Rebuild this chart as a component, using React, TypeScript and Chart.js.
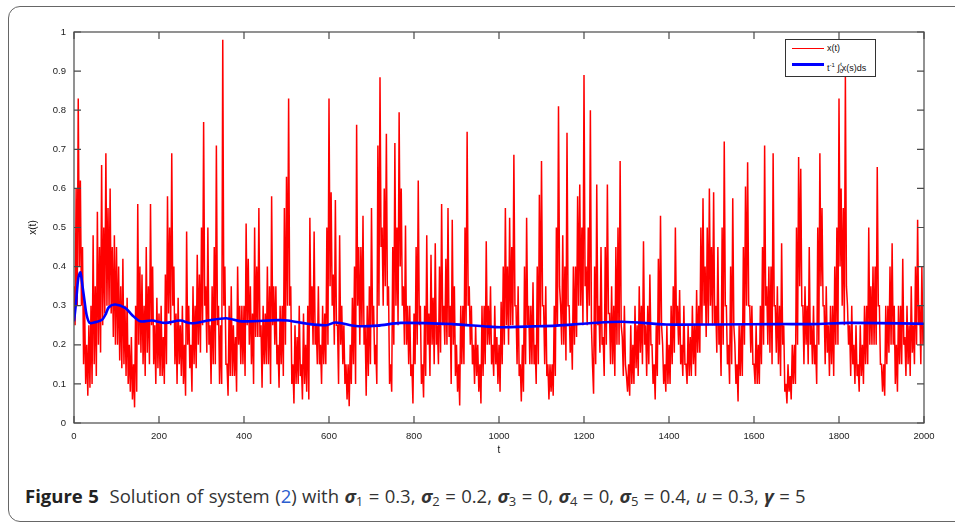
import React, { useEffect, useRef } from "react";
import { Chart, registerables } from "chart.js";

Chart.register(...registerables);

// time step of the sampled x(t) trace
const T_STEP = 2.5;

// x(t) sampled every T_STEP time units, t = 0 .. 2000 (read off the figure:
// successive samples swing between the top and bottom of the dense red band)
const xValues: number[] = [
  0.35, 0.25, 0.6, 0.3, 0.83, 0.4, 0.62, 0.3, 0.45, 0.15, 0.3, 0.1, 0.2, 0.07, 0.25, 0.09, 0.3, 0.1, 0.48, 0.15,
  0.35, 0.12, 0.54, 0.2, 0.45, 0.18, 0.66, 0.25, 0.5, 0.28, 0.69, 0.3, 0.55, 0.3, 0.6, 0.28, 0.45, 0.22, 0.48, 0.2,
  0.45, 0.2, 0.4, 0.16, 0.35, 0.14, 0.42, 0.15, 0.3, 0.12, 0.32, 0.1, 0.2, 0.08, 0.22, 0.06, 0.15, 0.04, 0.3, 0.08,
  0.56, 0.2, 0.4, 0.18, 0.38, 0.15, 0.3, 0.12, 0.45, 0.18, 0.35, 0.15, 0.56, 0.25, 0.4, 0.15, 0.25, 0.1, 0.32, 0.14,
  0.28, 0.12, 0.3, 0.12, 0.22, 0.1, 0.38, 0.15, 0.58, 0.28, 0.5, 0.25, 0.69, 0.3, 0.4, 0.15, 0.28, 0.1, 0.32, 0.15,
  0.25, 0.12, 0.3, 0.1, 0.2, 0.07, 0.49, 0.2, 0.3, 0.14, 0.2, 0.08, 0.35, 0.15, 0.3, 0.14, 0.43, 0.2, 0.38, 0.18,
  0.5, 0.25, 0.77, 0.3, 0.35, 0.18, 0.5, 0.2, 0.25, 0.1, 0.35, 0.15, 0.45, 0.15, 0.71, 0.25, 0.3, 0.1, 0.25, 0.1,
  0.98, 0.3, 0.4, 0.15, 0.15, 0.07, 0.3, 0.12, 0.35, 0.12, 0.25, 0.12, 0.22, 0.08, 0.4, 0.2, 0.3, 0.15, 0.3, 0.15,
  0.3, 0.12, 0.51, 0.25, 0.42, 0.2, 0.35, 0.15, 0.28, 0.1, 0.5, 0.22, 0.4, 0.22, 0.55, 0.22, 0.25, 0.09, 0.3, 0.15,
  0.28, 0.15, 0.4, 0.15, 0.35, 0.1, 0.58, 0.25, 0.35, 0.2, 0.35, 0.15, 0.2, 0.09, 0.3, 0.15, 0.3, 0.12, 0.55, 0.2,
  0.63, 0.3, 0.83, 0.3, 0.35, 0.1, 0.15, 0.05, 0.25, 0.1, 0.22, 0.1, 0.3, 0.12, 0.15, 0.06, 0.28, 0.1, 0.2, 0.08,
  0.3, 0.06, 0.525, 0.25, 0.35, 0.2, 0.49, 0.2, 0.25, 0.15, 0.35, 0.15, 0.2, 0.1, 0.3, 0.15, 0.28, 0.15, 0.5, 0.2,
  0.83, 0.35, 0.59, 0.3, 0.38, 0.2, 0.57, 0.25, 0.25, 0.1, 0.48, 0.2, 0.3, 0.15, 0.25, 0.1, 0.15, 0.06, 0.15, 0.043,
  0.2, 0.1, 0.32, 0.15, 0.4, 0.1, 0.763, 0.3, 0.45, 0.2, 0.45, 0.25, 0.53, 0.2, 0.25, 0.07, 0.3, 0.12, 0.35, 0.15,
  0.55, 0.25, 0.3, 0.15, 0.2, 0.1, 0.71, 0.3, 0.884, 0.45, 0.5, 0.3, 0.6, 0.35, 0.74, 0.3, 0.35, 0.1, 0.15, 0.08,
  0.45, 0.2, 0.716, 0.3, 0.5, 0.25, 0.795, 0.4, 0.6, 0.3, 0.35, 0.2, 0.505, 0.2, 0.3, 0.15, 0.3, 0.12, 0.15, 0.05,
  0.28, 0.15, 0.45, 0.2, 0.62, 0.25, 0.3, 0.1, 0.15, 0.065, 0.3, 0.12, 0.48, 0.2, 0.28, 0.12, 0.43, 0.2, 0.32, 0.15,
  0.46, 0.2, 0.25, 0.15, 0.4, 0.18, 0.56, 0.25, 0.3, 0.2, 0.42, 0.2, 0.55, 0.22, 0.3, 0.1, 0.52, 0.2, 0.35, 0.12,
  0.2, 0.08, 0.15, 0.045, 0.3, 0.15, 0.3, 0.15, 0.5, 0.25, 0.745, 0.3, 0.35, 0.2, 0.3, 0.15, 0.2, 0.1, 0.25, 0.12,
  0.2, 0.08, 0.15, 0.05, 0.3, 0.12, 0.3, 0.15, 0.465, 0.2, 0.3, 0.2, 0.35, 0.15, 0.2, 0.12, 0.3, 0.15, 0.22, 0.1,
  0.2, 0.08, 0.31, 0.15, 0.4, 0.2, 0.55, 0.25, 0.4, 0.2, 0.525, 0.25, 0.45, 0.25, 0.686, 0.3, 0.3, 0.15, 0.35, 0.12,
  0.15, 0.055, 0.2, 0.08, 0.4, 0.15, 0.525, 0.25, 0.3, 0.15, 0.3, 0.15, 0.36, 0.15, 0.2, 0.1, 0.4, 0.15, 0.584, 0.25,
  0.67, 0.3, 0.3, 0.15, 0.35, 0.12, 0.15, 0.06, 0.15, 0.08, 0.15, 0.07, 0.3, 0.12, 0.5, 0.25, 0.81, 0.35, 0.3, 0.2,
  0.48, 0.2, 0.4, 0.16, 0.742, 0.3, 0.3, 0.18, 0.25, 0.136, 0.4, 0.2, 0.4, 0.22, 0.58, 0.3, 0.61, 0.3, 0.5, 0.25,
  0.89, 0.35, 0.4, 0.25, 0.5, 0.3, 0.8, 0.25, 0.15, 0.075, 0.4, 0.15, 0.61, 0.25, 0.3, 0.18, 0.45, 0.2, 0.22, 0.12,
  0.45, 0.2, 0.61, 0.28, 0.28, 0.15, 0.35, 0.15, 0.3, 0.12, 0.45, 0.2, 0.5, 0.2, 0.67, 0.25, 0.22, 0.12, 0.3, 0.15,
  0.12, 0.08, 0.15, 0.07, 0.25, 0.1, 0.2, 0.1, 0.3, 0.14, 0.25, 0.12, 0.35, 0.18, 0.3, 0.15, 0.465, 0.2, 0.25, 0.12,
  0.3, 0.15, 0.38, 0.2, 0.2, 0.1, 0.15, 0.06, 0.25, 0.12, 0.42, 0.2, 0.53, 0.25, 0.2, 0.1, 0.15, 0.08, 0.25, 0.1,
  0.2, 0.1, 0.3, 0.15, 0.35, 0.18, 0.5, 0.25, 0.3, 0.2, 0.34, 0.15, 0.2, 0.12, 0.3, 0.15, 0.15, 0.1, 0.25, 0.12,
  0.22, 0.12, 0.3, 0.15, 0.25, 0.12, 0.34, 0.18, 0.3, 0.18, 0.5, 0.25, 0.575, 0.3, 0.4, 0.22, 0.5, 0.25, 0.6, 0.3,
  0.45, 0.25, 0.59, 0.25, 0.3, 0.18, 0.45, 0.2, 0.25, 0.12, 0.5, 0.2, 0.72, 0.3, 0.3, 0.15, 0.2, 0.1, 0.4, 0.15,
  0.575, 0.25, 0.2, 0.1, 0.15, 0.055, 0.25, 0.12, 0.25, 0.12, 0.45, 0.2, 0.605, 0.3, 0.667, 0.3, 0.3, 0.18, 0.3, 0.15,
  0.15, 0.1, 0.25, 0.1, 0.2, 0.1, 0.3, 0.15, 0.45, 0.2, 0.71, 0.3, 0.35, 0.2, 0.4, 0.18, 0.4, 0.15, 0.69, 0.3,
  0.3, 0.18, 0.35, 0.15, 0.3, 0.12, 0.46, 0.2, 0.25, 0.08, 0.1, 0.05, 0.15, 0.08, 0.12, 0.06, 0.2, 0.1, 0.2, 0.1,
  0.5, 0.2, 0.68, 0.35, 0.65, 0.3, 0.3, 0.15, 0.35, 0.2, 0.3, 0.15, 0.45, 0.2, 0.25, 0.15, 0.3, 0.15, 0.2, 0.1,
  0.5, 0.2, 0.69, 0.35, 0.55, 0.3, 0.3, 0.15, 0.35, 0.18, 0.25, 0.12, 0.3, 0.15, 0.3, 0.12, 0.4, 0.2, 0.5, 0.2,
  0.83, 0.4, 0.6, 0.3, 0.55, 0.25, 0.886, 0.35, 0.3, 0.2, 0.25, 0.12, 0.3, 0.15, 0.2, 0.1, 0.25, 0.12, 0.15, 0.08,
  0.25, 0.12, 0.2, 0.1, 0.3, 0.15, 0.3, 0.15, 0.5, 0.2, 0.35, 0.2, 0.4, 0.2, 0.4, 0.2, 0.655, 0.3, 0.3, 0.15,
  0.15, 0.08, 0.15, 0.07, 0.3, 0.15, 0.3, 0.18, 0.4, 0.2, 0.46, 0.2, 0.3, 0.1, 0.2, 0.08, 0.3, 0.15, 0.3, 0.15,
  0.42, 0.2, 0.22, 0.12, 0.3, 0.15, 0.25, 0.12, 0.35, 0.18, 0.25, 0.15, 0.4, 0.2, 0.52, 0.25, 0.3, 0.15, 0.4, 0.2,
  0.25,
];

// running time average t^-1 ∫0^t x(s) ds
const avgT: number[] = [
  0, 5, 10, 15, 20, 25, 30, 37, 50, 66, 74, 82, 97, 121, 136, 156, 183, 215,
  250, 276, 315, 358, 394, 480, 503, 554, 593, 616, 663, 714, 769, 890, 969,
  1005, 1080, 1135, 1213, 1290, 1394, 1508, 1660, 1738, 1825, 2000,
];
const avgV: number[] = [
  0.26, 0.31, 0.37, 0.385, 0.35, 0.31, 0.275, 0.256, 0.258, 0.264, 0.277,
  0.296, 0.303, 0.294, 0.277, 0.26, 0.262, 0.256, 0.262, 0.255, 0.262, 0.268,
  0.26, 0.263, 0.262, 0.253, 0.25, 0.257, 0.248, 0.249, 0.256, 0.253, 0.247,
  0.245, 0.247, 0.249, 0.255, 0.259, 0.252, 0.252, 0.253, 0.253, 0.256,
  0.254,
];

const X_MIN = 0;
const X_MAX = 2000;
const X_STEP = 200;
const Y_MIN = 0;
const Y_MAX = 1;
const Y_STEP = 0.1;

const TICK_FONT = "'Liberation Sans', Arial, sans-serif";

const boxPlugin = {
  id: "matlabBox",
  afterDatasetsDraw(chart: any) {
    const { ctx, chartArea, scales } = chart;
    const { left, right, top, bottom } = chartArea;
    ctx.save();
    ctx.strokeStyle = "#4a4a4a";
    ctx.lineWidth = 1.2;
    ctx.strokeRect(left, top, right - left, bottom - top);
    const len = 7;
    ctx.beginPath();
    for (const t of scales.x.ticks) {
      const px = scales.x.getPixelForValue(t.value);
      ctx.moveTo(px, bottom);
      ctx.lineTo(px, bottom - len);
      ctx.moveTo(px, top);
      ctx.lineTo(px, top + len);
    }
    for (const t of scales.y.ticks) {
      const py = scales.y.getPixelForValue(t.value);
      ctx.moveTo(left, py);
      ctx.lineTo(left + len, py);
      ctx.moveTo(right, py);
      ctx.lineTo(right - len, py);
    }
    ctx.stroke();
    ctx.restore();
  },
};

const fmt = (v: number) => String(Math.round(v * 10) / 10);

export default function App() {
  const ref = useRef<HTMLCanvasElement>(null);

  useEffect(() => {
    document.body.style.margin = "0";
    const redData = xValues.map((v, i) => ({ x: i * T_STEP, y: v }));
    const blueData = avgT.map((t, i) => ({ x: t, y: avgV[i] }));
    const chart = new Chart(ref.current as HTMLCanvasElement, {
      type: "line",
      data: {
        datasets: [
          {
            label: "avg",
            data: blueData,
            borderColor: "#0000ff",
            borderWidth: 2.6,
            pointRadius: 0,
            tension: 0.3,
            order: 0,
          },
          {
            label: "x(t)",
            data: redData,
            borderColor: "#ff0000",
            borderWidth: 1.5,
            pointRadius: 0,
            tension: 0,
            order: 1,
          },
        ],
      },
      options: {
        animation: false,
        responsive: false,
        devicePixelRatio: 1,
        parsing: false,
        layout: { padding: { left: 0, right: 31, top: 32, bottom: 0 } },
        plugins: { legend: { display: false }, tooltip: { enabled: false } },
        scales: {
          x: {
            type: "linear",
            min: X_MIN,
            max: X_MAX,
            ticks: {
              stepSize: X_STEP,
              color: "#222",
              font: { family: TICK_FONT, size: 9.5 },
              padding: 8,
              maxRotation: 0,
              autoSkip: false,
              callback: (v: any) => fmt(Number(v)),
            },
            grid: { display: false, drawTicks: false },
            border: { display: false },
            title: {
              display: true,
              text: "t",
              color: "#111",
              font: { family: TICK_FONT, size: 10 },
              padding: { top: 0, bottom: 13.5 },
            },
            afterFit(s: any) {
              s.height = 47;
            },
          },
          y: {
            type: "linear",
            min: Y_MIN,
            max: Y_MAX,
            ticks: {
              stepSize: Y_STEP,
              color: "#222",
              font: { family: TICK_FONT, size: 9.5 },
              padding: 8,
              callback: (v: any) => fmt(Number(v)),
            },
            grid: { display: false, drawTicks: false },
            border: { display: false },
            title: {
              display: true,
              text: "x(t)",
              color: "#111",
              font: { family: TICK_FONT, size: 10 },
              padding: { top: 27, bottom: 0 },
            },
            afterFit(s: any) {
              s.width = 74;
            },
          },
        },
      },
      plugins: [boxPlugin],
    } as any);
    return () => chart.destroy();
  }, []);

  const legendText: React.CSSProperties = {
    fontFamily: TICK_FONT,
    fontSize: 9,
    color: "#111",
    position: "absolute",
    left: 41,
    whiteSpace: "nowrap",
  };
  const small: React.CSSProperties = { fontSize: 6 };
  const sym: React.CSSProperties = { fontFamily: "'Open Sans', sans-serif", fontWeight: 700, fontStyle: "italic" };
  const sub: React.CSSProperties = { fontSize: 13, verticalAlign: "-3px" };

  return (
    <div style={{ position: "relative", width: 955, height: 522, overflow: "hidden", background: "#fff" }}>
      <div
        style={{
          position: "absolute",
          left: 8,
          top: 6,
          width: 990,
          height: 516,
          boxSizing: "border-box",
          border: "1.5px solid #666",
          borderRadius: 12,
        }}
      />
      <canvas ref={ref} width={955} height={470} style={{ position: "absolute", left: 0, top: 0, width: 955, height: 470 }} />
      <div
        style={{
          position: "absolute",
          left: 785,
          top: 39,
          width: 91,
          height: 38,
          boxSizing: "border-box",
          border: "1px solid #333",
          background: "#fff",
        }}
      >
        <div style={{ position: "absolute", left: 6, top: 8, width: 32, height: 1, background: "#ff0000" }} />
        <div style={{ ...legendText, top: 2, lineHeight: "12px" }}>x(t)</div>
        <div style={{ position: "absolute", left: 6, top: 23, width: 32, height: 2.5, background: "#0000ff" }} />
        <div style={{ ...legendText, top: 18, lineHeight: "12px" }}>
          t<sup style={{ ...small, verticalAlign: "4px" }}>-1</sup>
          <span style={{ fontStyle: "italic" }}> ∫</span>
          <sub style={{ ...small, verticalAlign: "-2px" }}>0</sub>
          <sup style={{ ...small, verticalAlign: "5px", marginLeft: -3 }}>t</sup>
          x(s)ds
        </div>
      </div>
      <div
        style={{
          position: "absolute",
          left: 25,
          top: 484,
          whiteSpace: "nowrap",
          fontFamily: "'Open Sans', 'Noto Sans', sans-serif",
          fontSize: 18.5,
          lineHeight: "24px",
          color: "#333",
          wordSpacing: "0.6px",
        }}
      >
        <span style={{ fontWeight: 700, color: "#222" }}>Figure 5</span>
        {"\u00a0\u00a0Solution of system ("}
        <span style={{ color: "#2b5ecf" }}>2</span>
        {") with "}
        <span style={sym}>σ</span><span style={sub}>1</span> = 0.3,{" "}
        <span style={sym}>σ</span><span style={sub}>2</span> = 0.2,{" "}
        <span style={sym}>σ</span><span style={sub}>3</span> = 0,{" "}
        <span style={sym}>σ</span><span style={sub}>4</span> = 0,{" "}
        <span style={sym}>σ</span><span style={sub}>5</span> = 0.4,{" "}
        <span style={{ fontStyle: "italic" }}>u</span> = 0.3,{" "}
        <span style={sym}>γ</span> = 5
      </div>
    </div>
  );
}
